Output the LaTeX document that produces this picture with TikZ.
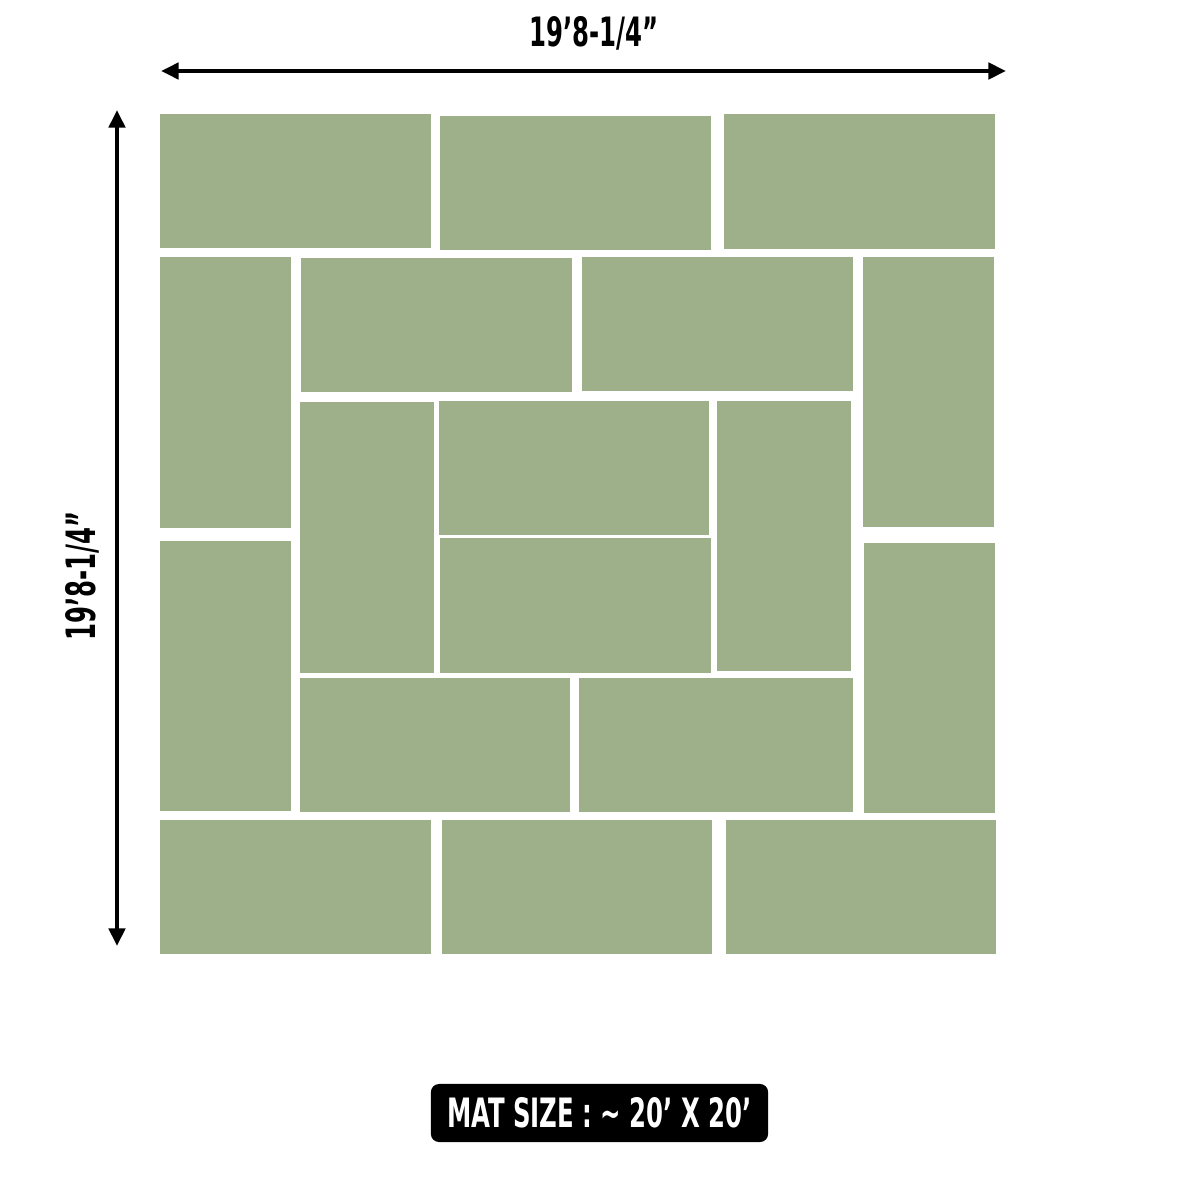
\documentclass[tikz,border=0pt]{standalone}
\usepackage{fontspec}
\setmainfont{DejaVu Sans Condensed}
\usetikzlibrary{arrows.meta}
\definecolor{tilegreen}{RGB}{158,176,138}
\newcommand{\narrowtext}[1]{\scalebox{0.67}[1]{#1}}
\tikzset{
    htile/.style={fill=tilegreen,inner sep=0pt,minimum width=2.70cm,minimum height=1.34cm},
    vtile/.style={fill=tilegreen,inner sep=0pt,minimum width=1.31cm,minimum height=2.70cm},
    dimline/.style={line width=1.1pt,{Triangle[length=5pt,width=4.6pt]}-{Triangle[length=5pt,width=4.6pt]}},
    dimlabel/.style={font=\bfseries\fontsize{11.5}{13}\selectfont,inner sep=0pt}
}
\begin{document}
\begin{tikzpicture}[x=0.01cm,y=-0.01cm]
            \useasboundingbox (0,0) rectangle (1200,1200);
            \fill[white] (0,0) rectangle (1200,1200);

            % horizontal tiles
            \begin{scope}[every node/.style={htile}]
                \node (a) at (295.5,181) {};
                \node (b) at (575.5,183) {};
                \node (c) at (859.5,181.5) {};
                \node (e) at (436.5,325) {};
                \node (f) at (717.5,324) {};
                \node (i) at (574,468) {};
                \node (k) at (575.5,605.5) {};
                \node (n) at (435,745) {};
                \node (o) at (716,745) [minimum width=2.74cm] {};
                \node (p) at (295.5,887) {};
                \node (q) at (577,887) {};
                \node (r) at (861,887) {};
            \end{scope}

            % vertical tiles
            \begin{scope}[every node/.style={vtile}]
                \node (d) at (225.5,392.5) {};
                \node (g) at (928.5,392) {};
                \node (l) at (225.5,676) {};
                \node (m) at (929.5,678) {};
                \node (h) at (367,537.5) [minimum width=1.34cm,minimum height=2.71cm] {};
                \node (j) at (784,536) [minimum width=1.34cm] {};
            \end{scope}

            % dimensions
            \coordinate (topleft) at (161,71);
            \coordinate (topright) at (1006,71);
            \coordinate (sidetop) at (117,110);
            \coordinate (sidebottom) at (117,946);
            \draw[dimline] (topleft) -- (topright);
            \draw[dimline] (sidetop) -- (sidebottom);
            \node (width) [dimlabel] at (594,33) {\narrowtext{19’8-1/4”}};
            \node (height) [dimlabel,rotate=90] at (82,576) {\narrowtext{19’8-1/4”}};

            \node (mat) [fill=black,rounded corners=2.3pt,minimum width=3.37cm,minimum height=0.58cm,text=white,dimlabel] at (599.5,1113) {\narrowtext{MAT SIZE : \textasciitilde{} 20’ X 20’}};
\end{tikzpicture}
\end{document}
